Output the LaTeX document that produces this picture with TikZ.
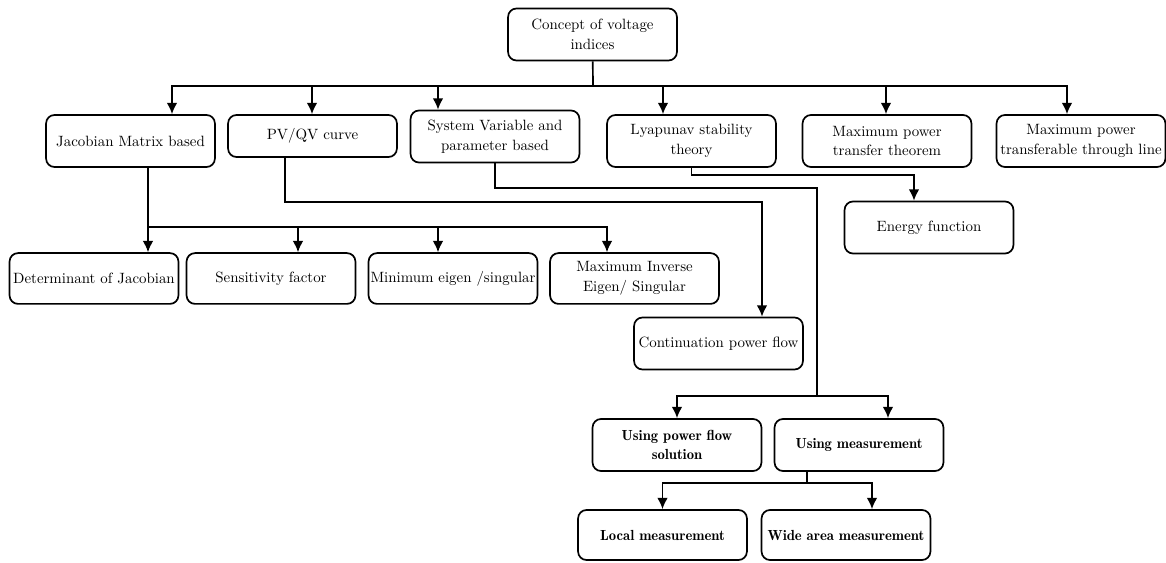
\documentclass[tikz,border=0pt]{standalone}
\usetikzlibrary{arrows.meta}
\begin{document}
\begin{tikzpicture}[x=0.025cm, y=-0.025cm, font=\fontsize{10.6}{14}\selectfont]
        % Define styles for shapes
        \tikzstyle{box} = [draw, line width=1.2pt, rounded corners=6pt, minimum width=4.22cm, minimum height=1.3cm, align=center, inner sep=1pt]
        \tikzstyle{boldbox} = [box, font=\fontsize{10.4}{13.5}\fontseries{b}\selectfont]
        \tikzstyle{link} = [line width=1.2pt]
        \tikzstyle{arr} = [link, -{Latex[length=8pt,width=7.5pt]}]

        \useasboundingbox (0,0) rectangle (1166,563);

        % Draw shapes
        \node[box] (concept) at (592.5,34.5) {Concept of voltage\\indices};

        \node[box] (jac) at (130.5,141) {Jacobian Matrix based};
        \node[box, minimum height=1.05cm] (pvqv) at (312.5,136) {PV/QV curve};
        \node[box] (sysvar) at (495,136.5) {System Variable and\\parameter based};
        \node[box] (lyap) at (691.5,141) {Lyapunav stability\\theory};
        \node[box] (mptt) at (887,141) {Maximum power\\transfer theorem};
        \node[box] (mptl) at (1081,141) {Maximum power\\transferable through line};

        \node[box, minimum height=1.27cm] (det) at (94,278.5) {Determinant of Jacobian};
        \node[box, minimum height=1.27cm] (sens) at (271,278.5) {Sensitivity factor};
        \node[box, minimum height=1.27cm] (mineig) at (453,278.5) {Minimum eigen /singular};
        \node[box, minimum height=1.27cm] (maxinv) at (634.5,278.5) {Maximum Inverse\\Eigen/ Singular};

        \node[box] (energy) at (929,227.5) {Energy function};
        \node[box] (contin) at (718.5,343.5) {Continuation power flow};

        \node[boldbox] (upf) at (677,445) {Using power flow\\solution};
        \node[boldbox] (umeas) at (859,445) {Using measurement};
        \node[boldbox, minimum height=1.25cm] (local) at (662.5,535) {Local measurement};
        \node[boldbox, minimum height=1.25cm] (wide) at (846,535) {Wide area measurement};

        % Draw connectors
        \coordinate (bus) at (593,86);
        \draw[link] (concept) -- (bus);
        \foreach \x/\n in {172/jac, 312/pvqv, 438/sysvar, 663/lyap, 886/mptt, 1067/mptl} {
            \coordinate (t\n) at (\x,86);
            \draw[arr] (bus) -| (t\n |- \n.north);
        }

        \coordinate (jbus) at (148,227);
        \draw[link] (jbus |- jac.south) -- (jbus);
        \foreach \x/\n in {148/det, 298/sens, 438/mineig, 607/maxinv} {
            \coordinate (r\n) at (\x,227);
            \draw[arr] (jbus) -| (r\n |- \n.north);
        }

        \coordinate (pvturn) at (285,202);
        \coordinate (cin) at (762,202);
        \draw[arr] (pvturn |- pvqv.south) -- (pvturn) -- (cin) -- (cin |- contin.north);

        \coordinate (sturn) at (817,188);
        \coordinate (mbus) at (817,396);
        \coordinate (um) at (888,396);
        \draw[link] (sysvar.south) |- (sturn) -- (mbus);
        \draw[arr] (mbus) -| (upf.north);
        \draw[arr] (mbus) -- (um) -- (um |- umeas.north);

        \coordinate (mm) at (807,483);
        \coordinate (wa) at (872,483);
        \draw[link] (mm |- umeas.south) -- (mm);
        \draw[arr] (mm) -| (local.north);
        \draw[arr] (mm) -- (wa) -- (wa |- wide.north);

        \coordinate (eturn) at (914,175);
        \draw[arr] (lyap.south) |- (eturn) -- (eturn |- energy.north);
\end{tikzpicture}
\end{document}
